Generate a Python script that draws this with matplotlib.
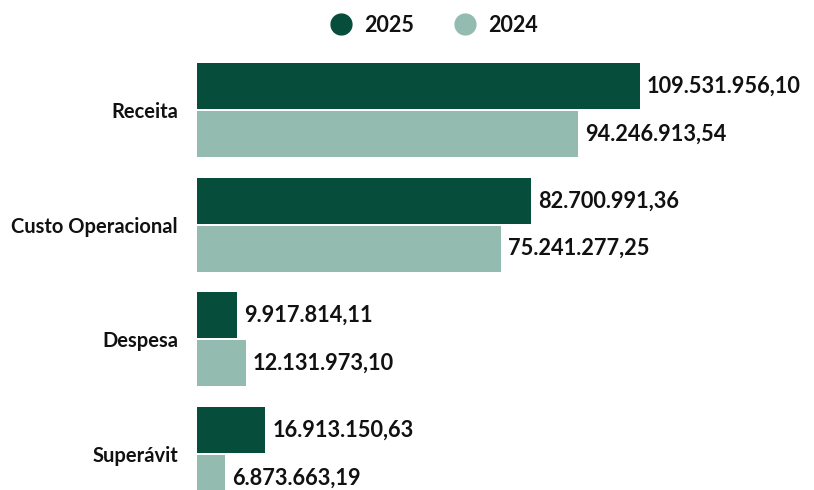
import numpy as np
import matplotlib.pyplot as plt
from matplotlib.lines import Line2D

# dados
categorias = ["Receita", "Custo Operacional", "Despesa", "Superávit"]
valores_2025 = [109531956.10, 82700991.36, 9917814.11, 16913150.63]
valores_2024 = [94246913.54, 75241277.25, 12131973.10, 6873663.19]
rotulos_2025 = ["109.531.956,10", "82.700.991,36", "9.917.814,11", "16.913.150,63"]
rotulos_2024 = ["94.246.913,54", "75.241.277,25", "12.131.973,10", "6.873.663,19"]

cor_2025 = "#074d3b"
cor_2024 = "#94bbb0"

plt.rcParams['font.family'] = ['Lato', 'DejaVu Sans']

W, H = 814, 490
fig = plt.figure(figsize=(W / 100, H / 100), dpi=100)
fig.patch.set_facecolor("white")

# eixo em coordenadas de pixel
left, right, top, bottom = 197, 814, 50, 490
ax = fig.add_axes([left / W, 1 - bottom / H, (right - left) / W, (bottom - top) / H])

pitch = 114.7
centro0 = 110
ax.set_ylim((bottom - centro0) / pitch, (top - centro0) / pitch)
escala = 443 / valores_2025[0]
ax.set_xlim(0, (right - left) / escala)

y = np.arange(len(categorias))
h = 0.40
off = 0.209
ax.barh(y - off, valores_2025, height=h, color=cor_2025)
ax.barh(y + off, valores_2024, height=h, color=cor_2024)

dx = 7 / escala
for i in range(len(categorias)):
    ax.text(valores_2025[i] + dx, y[i] - off, rotulos_2025[i], va="center", ha="left",
            fontsize=15.7, fontweight="bold", color="#111111")
    ax.text(valores_2024[i] + dx, y[i] + off, rotulos_2024[i], va="center", ha="left",
            fontsize=15.7, fontweight="bold", color="#111111")

ax.set_yticks(y)
ax.set_yticklabels(categorias, fontsize=14.5, fontweight="bold", color="#111111")
ax.tick_params(axis="y", length=0, pad=13.7)
ax.set_xticks([])
for s in ax.spines.values():
    s.set_visible(False)
ax.patch.set_alpha(0)

handles = [
    Line2D([], [], marker="o", linestyle="none", markersize=15, color=cor_2025),
    Line2D([], [], marker="o", linestyle="none", markersize=15, color=cor_2024),
]
leg = fig.legend(handles, ["2025", "2024"], loc="center", bbox_to_anchor=(434 / W, 1 - 25 / H),
                 ncol=2, frameon=False, handlelength=1.0, handletextpad=0.55, columnspacing=1.9,
                 prop={"size": 15.5, "weight": "bold"})
for t in leg.get_texts():
    t.set_color("#111111")

fig.savefig("out.png", dpi=100, facecolor="white")
